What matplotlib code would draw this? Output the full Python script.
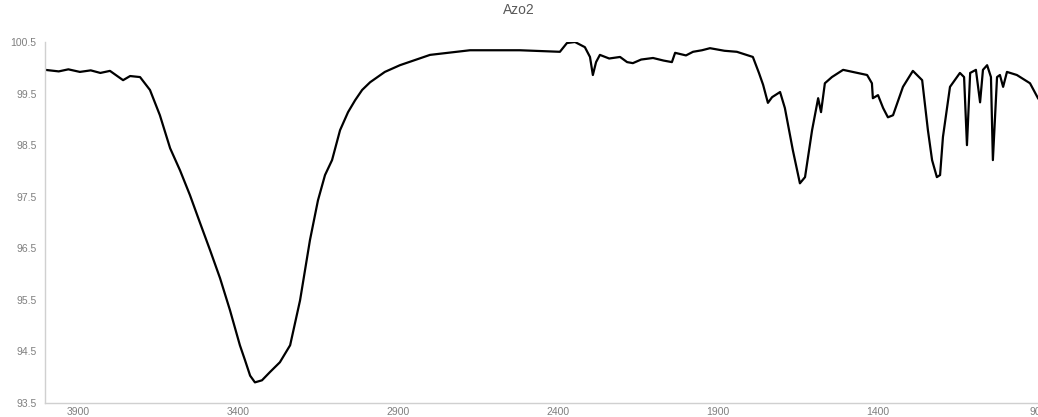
import matplotlib
matplotlib.use("Agg")
import matplotlib.pyplot as plt

# wavenumber (cm-1) and transmittance (%)
wavenumber = [4003, 3960, 3930, 3894, 3860, 3830, 3800, 3759, 3737, 3706, 3675, 3644, 3612, 3581,
              3550, 3519, 3487, 3456, 3425, 3394, 3378, 3362, 3347, 3325,
              3300, 3269, 3237, 3206, 3175, 3150, 3128, 3106, 3081, 3056,
              3034, 3012, 2987, 2941, 2894, 2800, 2675, 2519, 2394, 2372,
              2347, 2316, 2300, 2291, 2281, 2269, 2240, 2206, 2184, 2166,
              2140, 2103, 2070, 2044, 2034, 2000, 1978, 1950, 1925, 1880,
              1841, 1791, 1772, 1759, 1744, 1731, 1706, 1691, 1666, 1644,
              1628, 1606, 1587, 1578, 1566, 1544, 1509, 1434, 1419, 1416,
              1400, 1384, 1369, 1353, 1322, 1291, 1262, 1244, 1231, 1216,
              1206, 1197, 1175, 1144, 1131, 1122, 1112, 1094, 1081, 1072,
              1059, 1047, 1041, 1028, 1019, 1009, 997, 966, 925, 900]
transmittance = [99.96, 99.93, 99.97, 99.92, 99.95, 99.90, 99.94, 99.76, 99.84, 99.82, 99.57, 99.08, 98.44, 98.01,
                 97.53, 97.00, 96.46, 95.92, 95.30, 94.62, 94.33, 94.03, 93.90, 93.94,
                 94.10, 94.29, 94.62, 95.49, 96.66, 97.43, 97.92, 98.21, 98.79, 99.14,
                 99.37, 99.57, 99.72, 99.92, 100.05, 100.25, 100.34, 100.34, 100.31, 100.48,
                 100.50, 100.40, 100.21, 99.86, 100.11, 100.25, 100.18, 100.21, 100.11, 100.09,
                 100.16, 100.19, 100.14, 100.11, 100.29, 100.24, 100.31, 100.34, 100.38, 100.33,
                 100.31, 100.21, 99.90, 99.67, 99.32, 99.43, 99.53, 99.22, 98.40, 97.76,
                 97.88, 98.79, 99.41, 99.14, 99.70, 99.82, 99.96, 99.86, 99.70, 99.41,
                 99.47, 99.22, 99.04, 99.08, 99.63, 99.94, 99.76, 98.79, 98.21, 97.88,
                 97.92, 98.66, 99.63, 99.90, 99.82, 98.50, 99.90, 99.96, 99.33, 99.96,
                 100.05, 99.82, 98.21, 99.82, 99.86, 99.63, 99.92, 99.86, 99.70, 99.41]

x_ticks = [3900, 3400, 2900, 2400, 1900, 1400, 900]
y_ticks = [93.5, 94.5, 95.5, 96.5, 97.5, 98.5, 99.5, 100.5]

plt.rcParams['font.family'] = ['Liberation Sans', 'DejaVu Sans']
fig = plt.figure(figsize=(10.38, 4.17), dpi=100)
ax = fig.add_axes([45 / 1038, 1 - 403 / 417, 1 - 45 / 1038, (403 - 42) / 417])

ax.plot(wavenumber, transmittance, color='black', linewidth=1.6)

ax.set_xlim(4003, 900)
ax.set_ylim(93.5, 100.5)
ax.set_xticks(x_ticks)
ax.set_yticks(y_ticks)
ax.set_yticklabels([f"{v:.1f}" for v in y_ticks])
ax.tick_params(length=0, labelsize=7.5, colors='#7f7f7f', pad=6)
ax.tick_params(axis='x', pad=3)
for side in ['top', 'right']:
    ax.spines[side].set_visible(False)
for side in ['left', 'bottom']:
    ax.spines[side].set_color('#d0d0d0')
    ax.spines[side].set_linewidth(1.0)

fig.text(0.5, 1 - 10 / 417, "Azo2", ha='center', va='center', fontsize=10, color='#595959')

fig.savefig("out.png", dpi=100)
